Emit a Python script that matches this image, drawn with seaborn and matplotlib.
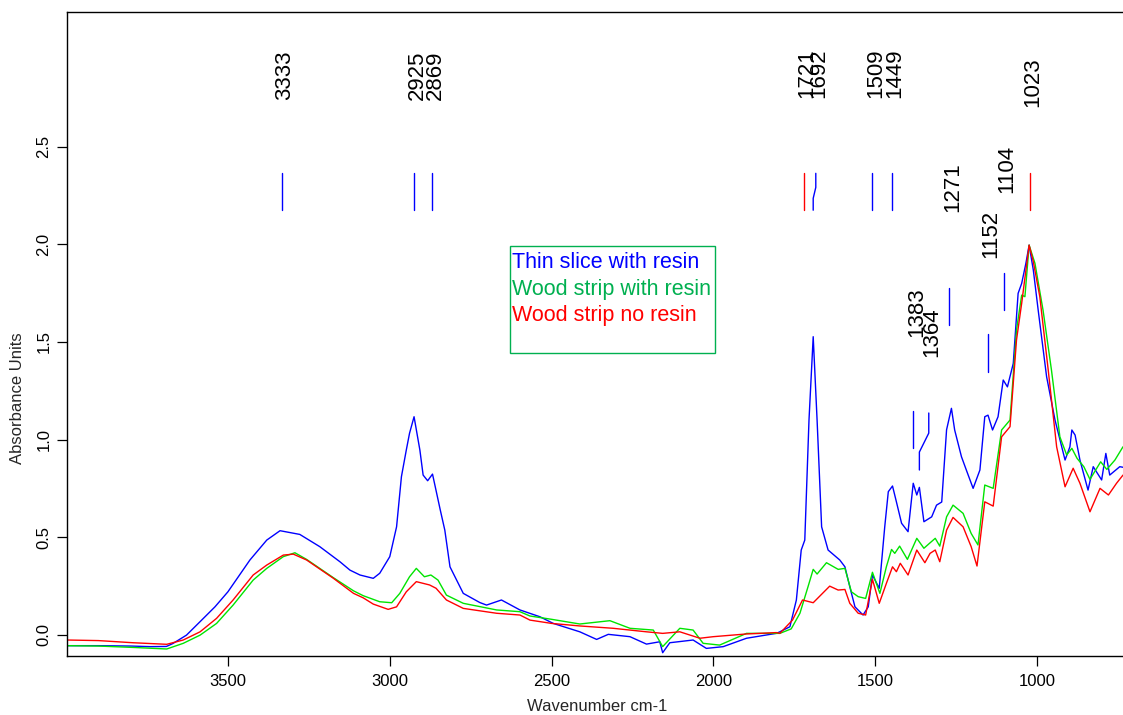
import matplotlib
matplotlib.use("Agg")
import matplotlib.pyplot as plt
import pandas as pd
import seaborn as sns
from matplotlib.patches import Rectangle

sns.set_style("ticks")
plt.rcParams["font.family"] = ["Liberation Sans", "DejaVu Sans"]

# ---- FTIR spectra (wavenumber in cm-1, absorbance units) ----
thin_slice_wn = [3998, 3900, 3800, 3740, 3690, 3670, 3628, 3586, 3540, 3500, 3432, 3380, 3339,
                 3278, 3216, 3154, 3123, 3092, 3051, 3031, 3000, 2979, 2964, 2949, 2939, 2925,
                 2907, 2897, 2883, 2868, 2844, 2830, 2814, 2773, 2722, 2701, 2655, 2598, 2536,
                 2495, 2413, 2361, 2325, 2258, 2207, 2166, 2157, 2135, 2063, 2022, 1970, 1898,
                 1806, 1795, 1764, 1744, 1729, 1718, 1705, 1692, 1680, 1666, 1646, 1610, 1594,
                 1579, 1563, 1538, 1522, 1509, 1488, 1471, 1460, 1447, 1435, 1419, 1399, 1383,
                 1372, 1364, 1350, 1326, 1311, 1295, 1280, 1265, 1255, 1234, 1219, 1198, 1177,
                 1162, 1152, 1138, 1121, 1105, 1092, 1074, 1059, 1048, 1035, 1025, 1012, 997,
                 971, 945, 914, 899, 893, 883, 868, 843, 827, 801, 788, 776, 745, 735]
thin_slice_abs = [-0.056, -0.056, -0.058, -0.061, -0.060, -0.045, -0.002, 0.067, 0.143, 0.220,
                  0.383, 0.485, 0.533, 0.514, 0.451, 0.374, 0.331, 0.306, 0.289, 0.315, 0.400,
                  0.553, 0.810, 0.946, 1.032, 1.117, 0.946, 0.818, 0.789, 0.823, 0.639, 0.536,
                  0.348, 0.212, 0.165, 0.152, 0.178, 0.127, 0.092, 0.058, 0.015, -0.024, 0.002,
                  -0.010, -0.048, -0.036, -0.092, -0.041, -0.027, -0.070, -0.061, -0.018, 0.007,
                  0.015, 0.041, 0.178, 0.434, 0.485, 1.100, 1.527, 1.100, 0.553, 0.434, 0.383,
                  0.348, 0.246, 0.143, 0.101, 0.143, 0.306, 0.238, 0.553, 0.733, 0.762, 0.681,
                  0.571, 0.528, 0.776, 0.716, 0.755, 0.579, 0.604, 0.664, 0.680, 1.050, 1.160,
                  1.049, 0.912, 0.844, 0.750, 0.844, 1.117, 1.125, 1.049, 1.117, 1.305, 1.270,
                  1.390, 1.749, 1.800, 1.903, 1.996, 1.868, 1.663, 1.322, 1.100, 0.895, 0.963,
                  1.049, 1.023, 0.895, 0.741, 0.861, 0.793, 0.929, 0.818, 0.861, 0.858]

strip_resin_wn = [3998, 3900, 3793, 3689, 3638, 3586, 3535, 3484, 3422, 3380, 3329, 3293, 3257,
                  3174, 3112, 3082, 3031, 2994, 2969, 2939, 2918, 2893, 2873, 2851, 2825, 2773,
                  2670, 2598, 2567, 2500, 2413, 2320, 2258, 2186, 2157, 2104, 2063, 2032, 1981,
                  1898, 1806, 1795, 1760, 1733, 1708, 1692, 1680, 1651, 1615, 1594, 1574, 1553,
                  1530, 1509, 1486, 1466, 1450, 1440, 1425, 1401, 1372, 1350, 1333, 1315, 1301,
                  1280, 1260, 1229, 1204, 1183, 1162, 1136, 1110, 1084, 1064, 1048, 1038, 1025,
                  1007, 982, 956, 930, 909, 893, 877, 856, 837, 804, 785, 760, 735]
strip_resin_abs = [-0.056, -0.058, -0.065, -0.073, -0.044, -0.002, 0.058, 0.152, 0.280, 0.340,
                   0.400, 0.420, 0.386, 0.292, 0.225, 0.200, 0.169, 0.164, 0.212, 0.297, 0.340,
                   0.297, 0.306, 0.280, 0.203, 0.161, 0.127, 0.118, 0.096, 0.079, 0.055, 0.072,
                   0.033, 0.024, -0.061, 0.033, 0.024, -0.044, -0.053, 0.007, 0.007, 0.007, 0.030,
                   0.110, 0.246, 0.335, 0.311, 0.369, 0.335, 0.340, 0.220, 0.195, 0.186, 0.320,
                   0.212, 0.348, 0.437, 0.417, 0.454, 0.386, 0.494, 0.443, 0.468, 0.494, 0.454,
                   0.604, 0.664, 0.622, 0.519, 0.460, 0.767, 0.750, 1.049, 1.100, 1.561, 1.740,
                   1.732, 1.996, 1.903, 1.663, 1.356, 1.014, 0.921, 0.955, 0.904, 0.861, 0.796,
                   0.886, 0.847, 0.895, 0.963]

strip_plain_wn = [3998, 3900, 3793, 3689, 3638, 3586, 3535, 3484, 3422, 3380, 3329, 3298, 3257,
                  3174, 3112, 3082, 3051, 3005, 2979, 2949, 2918, 2877, 2857, 2825, 2773, 2670,
                  2598, 2567, 2500, 2413, 2310, 2207, 2157, 2104, 2042, 2001, 1898, 1806, 1795,
                  1756, 1725, 1692, 1641, 1615, 1594, 1579, 1553, 1530, 1509, 1488, 1466, 1447,
                  1435, 1423, 1399, 1372, 1347, 1331, 1315, 1301, 1280, 1260, 1229, 1204, 1186,
                  1162, 1136, 1110, 1084, 1064, 1048, 1025, 1012, 992, 966, 940, 914, 889, 868,
                  837, 806, 780, 755, 735]
strip_plain_abs = [-0.027, -0.030, -0.041, -0.049, -0.027, 0.015, 0.084, 0.178, 0.306, 0.357,
                   0.408, 0.413, 0.383, 0.289, 0.212, 0.189, 0.157, 0.130, 0.143, 0.220, 0.272,
                   0.255, 0.238, 0.178, 0.135, 0.110, 0.101, 0.075, 0.058, 0.045, 0.033, 0.015,
                   0.007, 0.015, -0.018, -0.010, 0.004, 0.011, 0.007, 0.075, 0.178, 0.164, 0.249,
                   0.229, 0.232, 0.161, 0.110, 0.101, 0.284, 0.161, 0.263, 0.348, 0.323, 0.366,
                   0.306, 0.434, 0.369, 0.417, 0.434, 0.374, 0.536, 0.601, 0.553, 0.451, 0.352,
                   0.681, 0.659, 1.014, 1.066, 1.510, 1.698, 1.996, 1.911, 1.732, 1.356, 0.963,
                   0.758, 0.853, 0.776, 0.630, 0.750, 0.716, 0.776, 0.818]

sample_names = ["Thin slice with resin", "Wood strip with resin", "Wood strip no resin"]

# ---- assigned band positions ----
peak_wn = [3333, 2925, 2869, 1721, 1692, 1509, 1449, 1023, 1271, 1104, 1152, 1383, 1364]
peak_labels = ["3333", "2925", "2869", "1721", "1692", "1509", "1449", "1023",
               "1271", "1104", "1152", "1383", "1364"]

# ---- styling ----
line_colors = ["#0000FF", "#00E400", "#FF0000"]
legend_colors = ["#0000FF", "#00B050", "#FF0000"]
marker_colors = ["blue", "blue", "blue", "red", "blue", "blue", "blue", "red",
                 "blue", "blue", "blue", "blue", "blue"]
# vertical extent of each marker tick and bottom of its label (absorbance units)
marker_lo = [2.175] * 8 + [1.586, 1.663, 1.346, 0.956, 0.844]
marker_hi = [2.364] * 8 + [1.776, 1.853, 1.540, 1.146, 1.136]
label_base = [2.739, 2.739, 2.739, 2.749, 2.749, 2.749, 2.749, 2.703,
              2.165, 2.263, 1.930, 1.525, 1.422]
# leader lines that are bent sideways so crowded labels stay apart
marker_shift = {"1692": (-8, 2.292, 2.236), "1364": (-29, 1.033, 0.936)}

df = pd.concat([
    pd.DataFrame({"wavenumber": wn, "absorbance": ab, "sample": name})
    for wn, ab, name in zip([thin_slice_wn, strip_resin_wn, strip_plain_wn],
                            [thin_slice_abs, strip_resin_abs, strip_plain_abs],
                            sample_names)
], ignore_index=True)

fig = plt.figure(figsize=(11.23, 7.15), dpi=100)
ax = fig.add_axes([0.0594, 0.0825, 0.9406, 0.9003])

sns.lineplot(data=df, x="wavenumber", y="absorbance", hue="sample",
             hue_order=sample_names, palette=dict(zip(sample_names, line_colors)),
             estimator=None, sort=True, legend=False, linewidth=1.0, ax=ax)

ax.set_xlim(3998, 735)
ax.set_ylim(-0.109, 3.189)
ax.set_xticks([3500, 3000, 2500, 2000, 1500, 1000])
ax.set_yticks([0.0, 0.5, 1.0, 1.5, 2.0, 2.5])
ax.set_xticklabels(["3500", "3000", "2500", "2000", "1500", "1000"])
ax.set_yticklabels(["0.0", "0.5", "1.0", "1.5", "2.0", "2.5"], rotation=90, va="center")
ax.tick_params(direction="out", length=7, width=0.9, labelsize=12, color="black",
               labelcolor="black")
ax.tick_params(axis="x", pad=6)
ax.tick_params(axis="y", pad=4)

for side in ["left", "bottom", "top"]:
    ax.spines[side].set_visible(True)
    ax.spines[side].set_color("black")
    ax.spines[side].set_linewidth(1.0)
ax.spines["right"].set_visible(False)

ax.set_xlabel("Wavenumber cm-1", fontsize=12)
ax.set_ylabel("Absorbance Units", fontsize=12)
ax.xaxis.set_label_coords(0.502, -0.0777)
ax.xaxis.label.set_va("center")
ax.yaxis.set_label_coords(-0.047, 0.40)
ax.yaxis.label.set_va("center")

# band markers and their rotated labels
for wn, lab, col, lo, hi, base in zip(peak_wn, peak_labels, marker_colors,
                                      marker_lo, marker_hi, label_base):
    if lab in marker_shift:
        dx, y_knee_hi, y_knee_lo = marker_shift[lab]
        xs = [wn, wn, wn + dx, wn + dx]
        ys = [lo, y_knee_lo, y_knee_hi, hi]
        text_x = wn + dx
    else:
        xs = [wn, wn]
        ys = [lo, hi]
        text_x = wn
    ax.plot(xs, ys, color=col, linewidth=1.0)
    ax.annotate(lab, xy=(text_x, base), xytext=(2.2, 0), textcoords="offset points",
                rotation=90, ha="center", va="bottom", fontsize=16, color="black")

# sample key box
box_left, box_right, box_bottom, box_top = 2629, 1996, 1.443, 1.990
ax.add_patch(Rectangle((box_left, box_bottom), box_right - box_left, box_top - box_bottom,
                       fill=False, edgecolor="#00B050", linewidth=1.0))
for name, col, yb in zip(sample_names, legend_colors, [1.877, 1.740, 1.606]):
    ax.annotate(name, xy=(box_left, yb), xytext=(1.2, 0), textcoords="offset points",
                ha="left", va="baseline", fontsize=15.5, color=col)

fig.savefig("out.png", dpi=100)
